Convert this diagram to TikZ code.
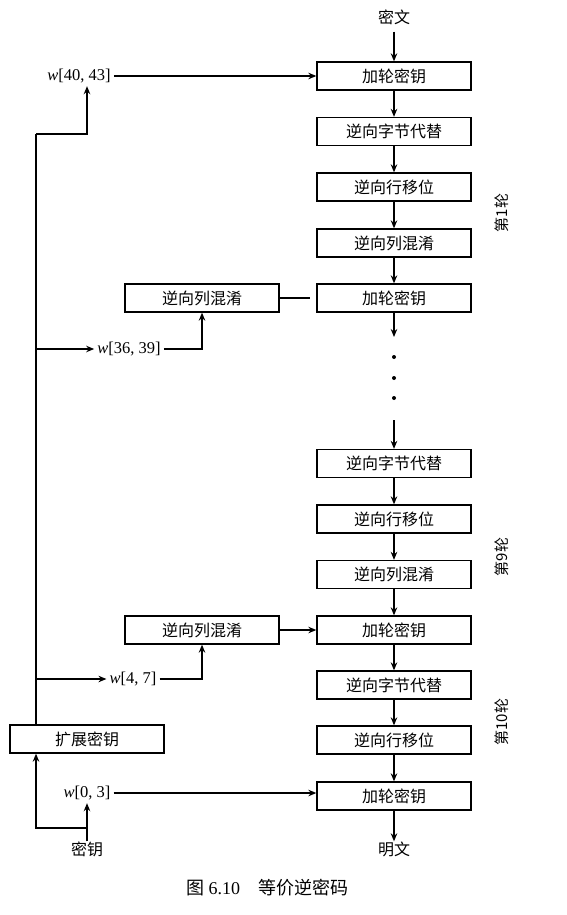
\documentclass[tikz,border=0pt]{standalone}
\usepackage{fontspec}
\setmainfont{Liberation Serif}
\newfontfamily\cjk{Noto Sans CJK SC}
\usetikzlibrary{arrows.meta}

\begin{document}
\begin{tikzpicture}[x=1pt,y=-1pt,
  every node/.style={inner sep=0pt},
  box/.style={draw,line width=1.3pt,minimum width=154pt,minimum height=28pt,
    font=\cjk\fontsize{16}{18}\selectfont},
  cjklab/.style={font=\cjk\fontsize{16}{18}\selectfont},
  wlab/.style={inner sep=3pt,font=\fontsize{16.5}{18}\selectfont},
  roundlab/.style={rotate=90,font=\cjk\fontsize{15}{17}\selectfont},
  flow/.style={line width=1.5pt,-{Stealth[length=8pt,width=6.5pt]}},
  wire/.style={line width=1.5pt},
  spine/.style={line width=2pt},
  dot/.style={circle,fill,minimum size=4pt}
]
\useasboundingbox (0,0) rectangle (567,915);

% main decryption column
\node[cjklab] (ct) at (394,17) {密文};
\node[box] (b1) at (394,76) {加轮密钥};
\node[box] (b2) at (394,131.5) {逆向字节代替};
\node[box] (b3) at (394,187) {逆向行移位};
\node[box] (b4) at (394,243) {逆向列混淆};
\node[box] (b5) at (394,298) {加轮密钥};
\node[dot] (d1) at (394,357) {};
\node[dot] (d2) at (394,378) {};
\node[dot] (d3) at (394,398) {};
\coordinate (gapend) at (394,337);
\coordinate (gapstart) at (394,420);
\node[box] (b6) at (394,463.5) {逆向字节代替};
\node[box] (b7) at (394,519) {逆向行移位};
\node[box] (b8) at (394,574.5) {逆向列混淆};
\node[box] (b9) at (394,630) {加轮密钥};
\node[box] (b10) at (394,685) {逆向字节代替};
\node[box] (b11) at (394,740) {逆向行移位};
\node[box] (b12) at (394,796) {加轮密钥};
\node[cjklab] (pt) at (394,849) {明文};

% round-key mixing boxes
\node[box] (m1) at (202,298) {逆向列混淆};
\node[box] (m2) at (202,630) {逆向列混淆};

% key schedule
\node[box] (ek) at (87,739) {扩展密钥};
\node[cjklab] (key) at (87,849) {密钥};
\node[wlab] (w4043) at (79,76) {\textit{w}[40, 43]};
\node[wlab] (w3639) at (129,349) {\textit{w}[36, 39]};
\node[wlab] (w47) at (133,679) {\textit{w}[4, 7]};
\node[wlab] (w03) at (87,793) {\textit{w}[0, 3]};

% round labels
\node[roundlab] (r1) at (502,213) {第1轮};
\node[roundlab] (r9) at (502,557) {第9轮};
\node[roundlab] (r10) at (502,722) {第10轮};

% caption
\node[font=\fontsize{18}{20}\selectfont] (cap) at (267,888)
  {{\cjk 图}\ 6.10\hspace{1em}{\cjk 等价逆密码}};

% column flow
\draw[flow,shorten <=7pt] (ct.south) -- (b1.north);
\draw[flow] (b1) -- (b2);
\draw[flow] (b2) -- (b3);
\draw[flow] (b3) -- (b4);
\draw[flow] (b4) -- (b5);
\draw[flow] (b5) -- (gapend);
\draw[flow] (gapstart) -- (b6);
\draw[flow] (b6) -- (b7);
\draw[flow] (b7) -- (b8);
\draw[flow] (b8) -- (b9);
\draw[flow] (b9) -- (b10);
\draw[flow] (b10) -- (b11);
\draw[flow] (b11) -- (b12);
\draw[flow] (b12) -- (pt);

% key wiring
\coordinate (top) at (36,134);
\coordinate (tap) at (87,134);
\coordinate (kj) at (87,828);
\coordinate (kc) at (36,828);
\draw[spine] (ek.north -| top) -- (top);
\draw[flow] (top) -- (tap) -- (tap |- w4043.south);
\draw[flow] (w4043.east) -- (b1.west);
\draw[flow] (top |- w3639.west) -- (w3639.west);
\draw[flow] (w3639.east) -| (m1.south);
\draw[wire,shorten >=6pt] (m1.east) -- (b5.west);
\draw[flow] (top |- w47.west) -- (w47.west);
\draw[flow] (w47.east) -| (m2.south);
\draw[flow] (m2.east) -- (b9.west);
\draw[flow] (key.north) -- (w03.south);
\draw[flow] (w03.east) -- (w03.east -| b12.west);
\draw[flow] (kj) -- (kc) -- (ek.south -| kc);
\end{tikzpicture}
\end{document}
